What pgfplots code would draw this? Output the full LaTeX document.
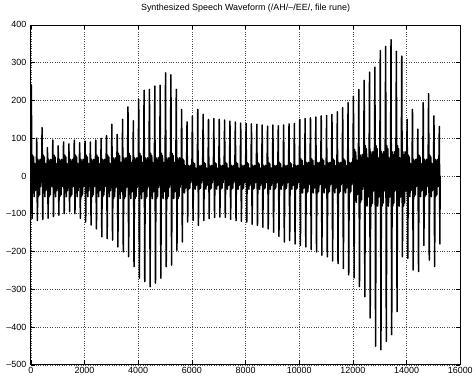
\documentclass[border=0pt]{standalone}
\usepackage{fontspec}
\setmainfont{Liberation Sans}
\usepackage{pgfplots}
\pgfplotsset{compat=1.18}
\begin{document}
\begin{tikzpicture}
\begin{axis}[
 scale only axis, width=432bp, height=342bp,
 xmin=0, xmax=16000, ymin=-500, ymax=400,
 xtick={0,2000,...,16000}, ytick={-500,-400,...,400},
 scaled x ticks=false, scaled y ticks=false,
 xticklabels={0,2000,4000,6000,8000,10000,12000,14000,16000},
 yticklabels={–500,–400,–300,–200,–100,0,100,200,300,400},
 grid=major, major grid style={black!70, dotted, line width=0.5pt},
 tick align=inside, xtick pos=both, ytick pos=both,
 major tick length=4.5bp,
 tick style={black, line width=0.5pt},
 axis line style={black, line width=0.7pt},
 ticklabel style={font=\fontsize{9bp}{10bp}\selectfont},
 xticklabel style={yshift=1bp},
 yticklabel style={xshift=-1bp},
 title={Synthesized Speech Waveform (/AH/–/EE/, file rune)},
 title style={font=\fontsize{9bp}{10bp}\selectfont, at={(0.5,1)}, anchor=base, yshift=8bp},
 clip=false,
]
\coordinate (bl) at (rel axis cs:0,0);
\coordinate (tr) at (rel axis cs:1,1);
\addplot[black, line width=1.5bp, line join=round] coordinates {
(0,11)(20,240)(45,-113)(65,55)(85,-44)(105,50)(125,-55)(145,33)(165,-39)(185,22)
(200,-11)(220,100)(245,-118)(265,44)(285,-55)(305,39)(325,-50)(345,44)(365,-28)(385,17)
(400,11)(420,128)(445,-115)(465,55)(485,-44)(505,50)(525,-55)(545,33)(565,-39)(585,22)
(600,-11)(620,75)(645,-112)(665,44)(685,-55)(705,39)(725,-50)(745,44)(765,-28)(785,17)
(800,11)(820,95)(845,-108)(865,55)(885,-44)(905,50)(925,-55)(945,33)(965,-39)(985,22)
(1000,-11)(1020,80)(1045,-104)(1065,44)(1085,-55)(1105,39)(1125,-50)(1145,44)(1165,-28)(1185,17)
(1200,11)(1220,90)(1245,-100)(1265,55)(1285,-44)(1305,50)(1325,-55)(1345,33)(1365,-39)(1385,22)
(1400,-11)(1420,85)(1445,-95)(1465,44)(1485,-55)(1505,39)(1525,-50)(1545,44)(1565,-28)(1585,17)
(1600,11)(1620,95)(1645,-100)(1665,55)(1685,-44)(1705,50)(1725,-55)(1745,33)(1765,-39)(1785,22)
(1800,-11)(1820,88)(1845,-112)(1865,44)(1885,-55)(1905,39)(1925,-50)(1945,44)(1965,-28)(1985,17)
(2000,11)(2020,92)(2045,-122)(2065,55)(2085,-44)(2105,50)(2125,-55)(2145,33)(2165,-39)(2185,22)
(2200,-11)(2220,90)(2245,-130)(2265,44)(2285,-55)(2305,39)(2325,-50)(2345,44)(2365,-28)(2385,17)
(2400,11)(2420,95)(2445,-140)(2465,55)(2485,-44)(2505,50)(2525,-55)(2545,33)(2565,-39)(2585,22)
(2600,-11)(2620,100)(2645,-161)(2665,44)(2685,-55)(2705,39)(2725,-50)(2745,44)(2765,-28)(2785,17)
(2800,11)(2820,107)(2845,-166)(2865,55)(2885,-44)(2905,50)(2925,-55)(2945,33)(2965,-39)(2985,22)
(3000,-12)(3020,137)(3045,-170)(3065,48)(3085,-60)(3105,42)(3125,-54)(3145,48)(3165,-30)(3185,18)
(3200,12)(3220,110)(3245,-188)(3265,60)(3285,-48)(3305,54)(3325,-60)(3345,36)(3365,-42)(3385,24)
(3400,-12)(3420,150)(3445,-201)(3465,48)(3485,-60)(3505,42)(3525,-54)(3545,48)(3565,-30)(3585,18)
(3600,12)(3620,183)(3645,-214)(3665,60)(3685,-48)(3705,54)(3725,-60)(3745,36)(3765,-42)(3785,24)
(3800,-12)(3820,146)(3845,-240)(3865,48)(3885,-60)(3905,42)(3925,-54)(3945,48)(3965,-30)(3985,18)
(4000,12)(4020,203)(4045,-271)(4065,60)(4085,-48)(4105,54)(4125,-60)(4145,36)(4165,-42)(4185,24)
(4200,-12)(4220,227)(4245,-280)(4265,48)(4285,-60)(4305,42)(4325,-54)(4345,48)(4365,-30)(4385,18)
(4400,12)(4420,229)(4445,-293)(4465,60)(4485,-48)(4505,54)(4525,-60)(4545,36)(4565,-42)(4585,24)
(4600,-12)(4620,238)(4645,-284)(4665,48)(4685,-60)(4705,42)(4725,-54)(4745,48)(4765,-30)(4785,18)
(4800,12)(4820,240)(4845,-271)(4865,60)(4885,-48)(4905,54)(4925,-60)(4945,36)(4965,-42)(4985,24)
(5000,-12)(5020,273)(5045,-240)(5065,48)(5085,-60)(5105,42)(5125,-54)(5145,48)(5165,-30)(5185,18)
(5200,12)(5220,268)(5245,-236)(5265,60)(5285,-48)(5305,54)(5325,-60)(5345,36)(5365,-42)(5385,24)
(5400,-12)(5420,229)(5445,-197)(5465,48)(5485,-60)(5505,42)(5525,-54)(5545,48)(5565,-30)(5585,18)
(5600,9)(5620,176)(5645,-175)(5665,45)(5685,-36)(5705,41)(5725,-45)(5745,27)(5765,-32)(5785,18)
(5800,-7)(5820,143)(5845,-122)(5865,28)(5885,-35)(5905,25)(5925,-32)(5945,28)(5965,-18)(5985,11)
(6000,7)(6020,159)(6045,-118)(6065,35)(6085,-28)(6105,32)(6125,-35)(6145,21)(6165,-25)(6185,14)
(6200,-7)(6220,176)(6245,-131)(6265,28)(6285,-35)(6305,25)(6325,-32)(6345,28)(6365,-18)(6385,11)
(6400,7)(6420,163)(6445,-118)(6465,35)(6485,-28)(6505,32)(6525,-35)(6545,21)(6565,-25)(6585,14)
(6600,-7)(6620,150)(6645,-113)(6665,28)(6685,-35)(6705,25)(6725,-32)(6745,28)(6765,-18)(6785,11)
(6800,7)(6820,152)(6845,-110)(6865,35)(6885,-28)(6905,32)(6925,-35)(6945,21)(6965,-25)(6985,14)
(7000,-7)(7020,150)(7045,-109)(7065,28)(7085,-35)(7105,25)(7125,-32)(7145,28)(7165,-18)(7185,11)
(7200,7)(7220,148)(7245,-110)(7265,35)(7285,-28)(7305,32)(7325,-35)(7345,21)(7365,-25)(7385,14)
(7400,-7)(7420,145)(7445,-115)(7465,28)(7485,-35)(7505,25)(7525,-32)(7545,28)(7565,-18)(7585,11)
(7600,7)(7620,143)(7645,-118)(7665,35)(7685,-28)(7705,32)(7725,-35)(7745,21)(7765,-25)(7785,14)
(7800,-7)(7820,140)(7845,-120)(7865,28)(7885,-35)(7905,25)(7925,-32)(7945,28)(7965,-18)(7985,11)
(8000,7)(8020,139)(8045,-122)(8065,35)(8085,-28)(8105,32)(8125,-35)(8145,21)(8165,-25)(8185,14)
(8200,-7)(8220,138)(8245,-128)(8265,28)(8285,-35)(8305,25)(8325,-32)(8345,28)(8365,-18)(8385,11)
(8400,7)(8420,137)(8445,-131)(8465,35)(8485,-28)(8505,32)(8525,-35)(8545,21)(8565,-25)(8585,14)
(8600,-7)(8620,135)(8645,-136)(8665,28)(8685,-35)(8705,25)(8725,-32)(8745,28)(8765,-18)(8785,11)
(8800,7)(8820,132)(8845,-140)(8865,35)(8885,-28)(8905,32)(8925,-35)(8945,21)(8965,-25)(8985,14)
(9000,-7)(9020,135)(9045,-149)(9065,28)(9085,-35)(9105,25)(9125,-32)(9145,28)(9165,-18)(9185,11)
(9200,7)(9220,133)(9245,-160)(9265,35)(9285,-28)(9305,32)(9325,-35)(9345,21)(9365,-25)(9385,14)
(9400,-7)(9420,135)(9445,-175)(9465,28)(9485,-35)(9505,25)(9525,-32)(9545,28)(9565,-18)(9585,11)
(9600,7)(9620,138)(9645,-171)(9665,35)(9685,-28)(9705,32)(9725,-35)(9745,21)(9765,-25)(9785,14)
(9800,-7)(9820,139)(9845,-180)(9865,28)(9885,-35)(9905,25)(9925,-32)(9945,28)(9965,-18)(9985,11)
(10000,9)(10020,150)(10045,-184)(10065,45)(10085,-36)(10105,41)(10125,-45)(10145,27)(10165,-32)(10185,18)
(10200,-9)(10220,152)(10245,-188)(10265,36)(10285,-45)(10305,32)(10325,-41)(10345,36)(10365,-23)(10385,14)
(10400,9)(10420,154)(10445,-195)(10465,45)(10485,-36)(10505,41)(10525,-45)(10545,27)(10565,-32)(10585,18)
(10600,-9)(10620,156)(10645,-201)(10665,36)(10685,-45)(10705,32)(10725,-41)(10745,36)(10765,-23)(10785,14)
(10800,9)(10820,159)(10845,-210)(10865,45)(10885,-36)(10905,41)(10925,-45)(10945,27)(10965,-32)(10985,18)
(11000,-9)(11020,160)(11045,-214)(11065,36)(11085,-45)(11105,32)(11125,-41)(11145,36)(11165,-23)(11185,14)
(11200,9)(11220,163)(11245,-225)(11265,45)(11285,-36)(11305,41)(11325,-45)(11345,27)(11365,-32)(11385,18)
(11400,-9)(11420,170)(11445,-232)(11465,36)(11485,-45)(11505,32)(11525,-41)(11545,36)(11565,-23)(11585,14)
(11600,9)(11620,181)(11645,-245)(11665,45)(11685,-36)(11705,41)(11725,-45)(11745,27)(11765,-32)(11785,18)
(11800,-9)(11820,194)(11845,-262)(11865,36)(11885,-45)(11905,32)(11925,-41)(11945,36)(11965,-23)(11985,14)
(12000,14)(12020,211)(12045,-270)(12065,70)(12085,-56)(12105,63)(12125,-70)(12145,42)(12165,-49)(12185,28)
(12200,-14)(12220,229)(12245,-293)(12265,56)(12285,-70)(12305,49)(12325,-63)(12345,56)(12365,-35)(12385,21)
(12400,16)(12420,253)(12445,-320)(12465,80)(12485,-64)(12505,72)(12525,-80)(12545,48)(12565,-56)(12585,32)
(12600,-16)(12620,275)(12645,-376)(12665,64)(12685,-80)(12705,56)(12725,-72)(12745,64)(12765,-40)(12785,24)
(12800,16)(12820,288)(12845,-451)(12865,80)(12885,-64)(12905,72)(12925,-80)(12945,48)(12965,-56)(12985,32)
(13000,-16)(13020,332)(13045,-460)(13065,64)(13085,-80)(13105,56)(13125,-72)(13145,64)(13165,-40)(13185,24)
(13200,16)(13220,343)(13245,-438)(13265,80)(13285,-64)(13305,72)(13325,-80)(13345,48)(13365,-56)(13385,32)
(13400,-16)(13420,361)(13445,-420)(13465,64)(13485,-80)(13505,56)(13525,-72)(13545,64)(13565,-40)(13585,24)
(13600,16)(13620,330)(13645,-359)(13665,80)(13685,-64)(13705,72)(13725,-80)(13745,48)(13765,-56)(13785,32)
(13800,-16)(13820,317)(13845,-214)(13865,64)(13885,-80)(13905,56)(13925,-72)(13945,64)(13965,-40)(13985,24)
(14000,11)(14020,150)(14045,-218)(14065,55)(14085,-44)(14105,50)(14125,-55)(14145,33)(14165,-39)(14185,22)
(14200,-11)(14220,176)(14245,-249)(14265,44)(14285,-55)(14305,39)(14325,-50)(14345,44)(14365,-28)(14385,17)
(14400,11)(14420,124)(14445,-253)(14465,55)(14485,-44)(14505,50)(14525,-55)(14545,33)(14565,-39)(14585,22)
(14600,-11)(14620,194)(14645,-184)(14665,44)(14685,-55)(14705,39)(14725,-50)(14745,44)(14765,-28)(14785,17)
(14800,11)(14820,218)(14845,-223)(14865,55)(14885,-44)(14905,50)(14925,-55)(14945,33)(14965,-39)(14985,22)
(15000,-11)(15020,159)(15045,-240)(15065,44)(15085,-55)(15105,39)(15125,-50)(15145,44)(15165,-28)(15185,17)
(15200,11)(15220,131)(15240,-180)(15250,0)
};
\end{axis}
\path (bl) ++(-31bp,-12bp) (tr) ++(13bp,25bp);
\end{tikzpicture}
\end{document}
